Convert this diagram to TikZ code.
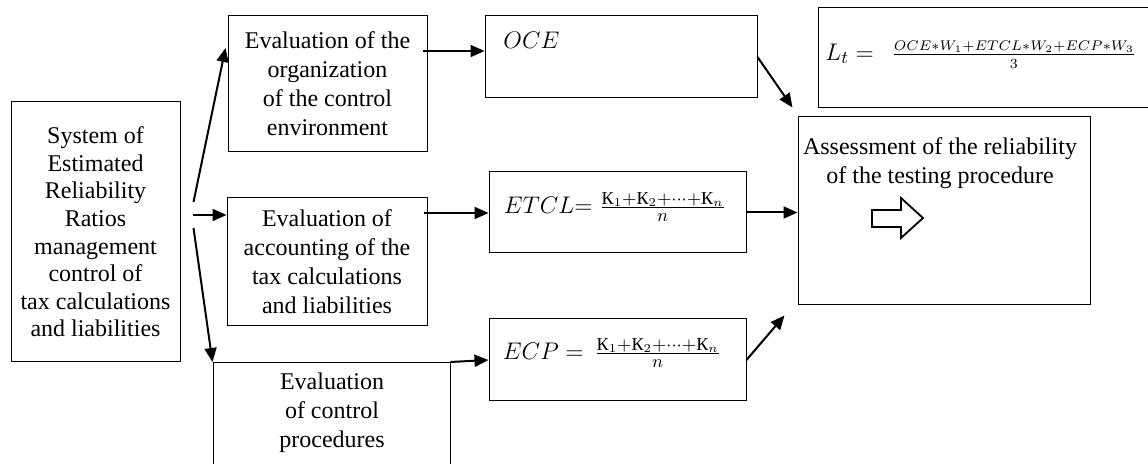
\documentclass[tikz,border=0pt]{standalone}
\usepackage{amsmath}
\usepackage{fontspec}
\setmainfont{Liberation Serif}
\usepackage{tikz}
\usetikzlibrary{arrows.meta}

\newcommand{\smallmath}[1]{\mbox{\fontsize{7.5}{8}\selectfont$#1$}}

\begin{document}
\begin{tikzpicture}[x=0.5pt,y=-0.5pt,
		box/.style={draw=black,rectangle,line width=0.5pt,inner sep=0pt,align=center,font=\fontsize{12}{14.5}\selectfont},
		txt/.style={align=center,inner sep=0pt,font=\fontsize{12}{14.5}\selectfont},
		frm/.style={inner sep=0pt,font=\fontsize{13}{15}\selectfont},
		arr/.style={-{Triangle[length=7pt,width=6pt]},line width=1pt,black}]
			
			% 画布大小
			\useasboundingbox (0,0) rectangle (1148,464);
			
			% 左侧系统框
			\node[box,minimum width=84.5pt,minimum height=130pt,font=\fontsize{12}{13.8}\selectfont] (sys) at (95.5,232)
			{System of\\Estimated\\Reliability\\Ratios\\management\\control of\\tax calculations\\and liabilities};
			
			% 三个评价框
			\node[box,minimum width=99.5pt,minimum height=68pt] (org) at (327.5,84)
			{Evaluation of the\\organization\\of the control\\environment};
			\node[box,minimum width=100pt,minimum height=64pt] (acc) at (327,262)
			{Evaluation of\\accounting of the\\tax calculations\\and liabilities};
			\node[box,minimum width=118.5pt,minimum height=55pt,anchor=north] (proc) at (331.5,362) {};
			\node[txt] (procText) at (332,413) {Evaluation\\of control\\procedures};
			
			% 公式框
			\node[box,minimum width=136pt,minimum height=41pt] (oce) at (621,57) {};
			\node[frm,anchor=west] (oceText) at (503,40) {$OCE$};
			\node[box,minimum width=128.5pt,minimum height=40.5pt] (etcl) at (617.5,212.5) {};
			\node[frm] (etclText) at (615,207) {$ETCL{=}\;\frac{\text{К}_1+\text{К}_2+\cdots+\text{К}_n}{n}$};
			\node[box,minimum width=128.5pt,minimum height=41pt] (ecp) at (617.5,360) {};
			\node[frm] (ecpText) at (612,353) {$ECP=\,\frac{\text{К}_1+\text{К}_2+\cdots+\text{К}_n}{n}$};
			
			% 结果框
			\node[box,minimum width=146pt,minimum height=94pt] (ass) at (944,211) {};
			\node[txt] (assText) at (940,163) {Assessment of the reliability\\of the testing procedure};
			\node[box,minimum width=175pt,minimum height=50pt] (lt) at (993,58) {};
			\node[frm,anchor=west] (ltText) at (825,55) {$L_t=\;\,\frac{\smallmath{OCE{\ast}W_1{+}ETCL{\ast}W_2{+}ECP{\ast}W_3}}{\smallmath{3}}$};
			
			% 空心箭头
			\draw[line width=0.9pt,black] (872,210) -- (901,210) -- (901,198) -- (923,218) -- (901,238) -- (901,227) -- (872,227) -- cycle;
			
			% 绘制连接线
			\draw[arr] ([xshift=6.5pt,yshift=15pt]sys.east) -- ([xshift=-1pt,yshift=18pt]org.west);
			\draw[arr] ([xshift=6pt,yshift=8.5pt]sys.east) coordinate (mid) -- (mid -| acc.west);
			\draw[arr] ([xshift=6.5pt,yshift=2pt]sys.east) -- (proc.north west);
			\draw[arr] ([xshift=-2.5pt,yshift=16.5pt]org.east) coordinate (a1) -- (a1 -| oce.west);
			\draw[arr] ([xshift=-2pt,yshift=24.5pt]acc.east) coordinate (a2) -- (a2 -| etcl.west);
			\draw[arr] (proc.north east) -- (ecp.west);
			\draw[arr] (oce.east) -- ([xshift=-2.5pt,yshift=4.5pt]ass.north west);
			\draw[arr] (etcl.east) -- (etcl.east -| ass.west);
			\draw[arr] (ecp.east) -- ([xshift=-6.5pt,yshift=-5pt]ass.south west);
			
		\end{tikzpicture}
\end{document}
